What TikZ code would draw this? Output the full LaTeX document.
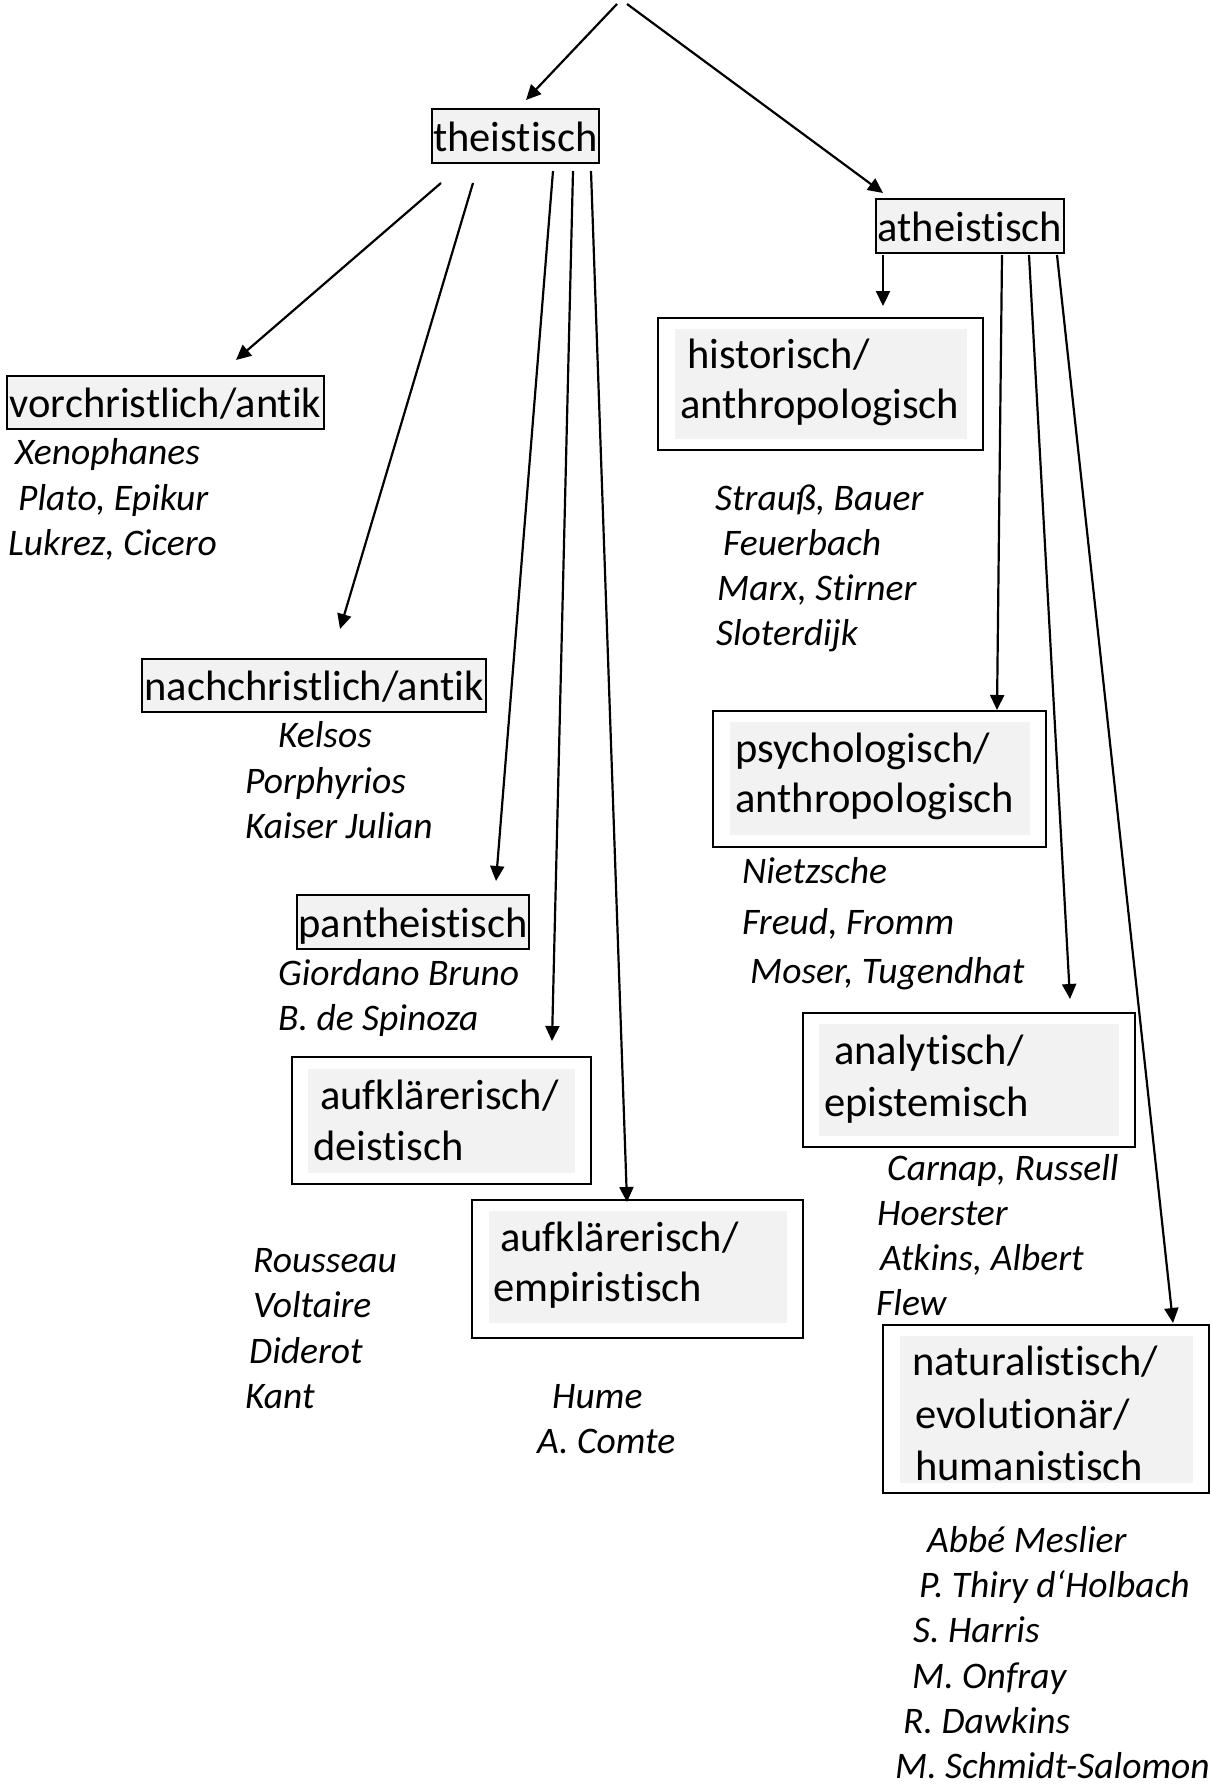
\documentclass[tikz,border=0pt]{standalone}
\usepackage{fontspec}
\setmainfont{Carlito}[Ligatures={NoCommon}]
\usetikzlibrary{arrows.meta}
\definecolor{boxgray}{HTML}{F2F2F2}
\newcommand{\bxfont}{\fontsize{42.5pt}{50pt}\selectfont}
\newcommand{\nmfont}{\fontsize{37.5pt}{45pt}\selectfont\itshape}
\begin{document}
\begin{tikzpicture}[x=1pt,y=-1pt,
  conn/.style={line width=2.2pt,-{Triangle[length=15pt,width=14pt]}},
  single/.style={draw,line width=2pt,fill=boxgray,inner sep=0pt,font=\bxfont,text height=36pt,text depth=6pt},
  outerbox/.style={draw,line width=2pt,fill=white,inner sep=0pt},
  innerbox/.style={fill=boxgray,inner sep=0pt},
  boxline/.style={anchor=base west,inner sep=0pt,font=\bxfont},
  nm/.style={anchor=base west,inner sep=0pt,font=\nmfont}]
\useasboundingbox[fill=white] (0,0) rectangle (1212,1785);

% single-line boxes
\node[single,minimum width=167pt,minimum height=54pt] (the) at (515.5,136) {theistisch};
\node[single,minimum width=188pt,minimum height=54pt] (athe) at (970,226) {atheistisch};
\node[single,minimum width=317pt,minimum height=53pt] (vor) at (165.5,402.5) {vorchristlich/antik};
\node[single,minimum width=344pt,minimum height=53pt] (nach) at (314,685.5) {nachchristlich/antik};
\node[single,minimum width=232pt,minimum height=54pt] (pan) at (413,922) {pantheistisch};

% two-line boxes
\node[outerbox,minimum width=325pt,minimum height=132pt] (hist) at (820.5,384) {};
\node[innerbox,minimum width=292pt,minimum height=110pt] (histin) at (821,384) {};
\node[boxline] (hist1) at (687,368) {historisch/};
\node[boxline] (hist2) at (680,418) {anthropologisch};

\node[outerbox,minimum width=333pt,minimum height=136pt] (psy) at (879.5,779) {};
\node[innerbox,minimum width=300pt,minimum height=113pt] (psyin) at (880,778.5) {};
\node[boxline] (psy1) at (735,762) {psychologisch/};
\node[boxline] (psy2) at (735,812) {anthropologisch};

\node[outerbox,minimum width=332pt,minimum height=134pt] (ana) at (969,1080) {};
\node[innerbox,minimum width=300pt,minimum height=112pt] (anain) at (969,1080) {};
\node[boxline] (ana1) at (834,1064) {analytisch/};
\node[boxline] (ana2) at (824,1116) {epistemisch};

\node[outerbox,minimum width=299pt,minimum height=127pt] (dei) at (441.5,1120.5) {};
\node[innerbox,minimum width=267pt,minimum height=104pt] (deiin) at (441.5,1121) {};
\node[boxline] (dei1) at (320,1109) {aufklärerisch/};
\node[boxline] (dei2) at (313,1160) {deistisch};

\node[outerbox,minimum width=331pt,minimum height=138pt] (emp) at (637.5,1269) {};
\node[innerbox,minimum width=298pt,minimum height=112pt] (empin) at (638,1267) {};
\node[boxline] (emp1) at (500,1251) {aufklärerisch/};
\node[boxline] (emp2) at (493,1301) {empiristisch};

\node[outerbox,minimum width=326pt,minimum height=168pt] (nat) at (1046,1409) {};
\node[innerbox,minimum width=293pt,minimum height=147pt] (natin) at (1046.5,1409.5) {};
\node[boxline] (nat1) at (912,1375) {naturalistisch/};
\node[boxline] (nat2) at (915,1428) {evolutionär/};
\node[boxline] (nat3) at (915,1480) {humanistisch};

% name lists
\node[nm] (n1) at (15,464) {Xenophanes};
\node[nm] (n2) at (18,510) {Plato, Epikur};
\node[nm] (n3) at (8,555) {Lukrez, Cicero};

\node[nm] (n4) at (278,747) {Kelsos};
\node[nm] (n5) at (245,793) {Porphyrios};
\node[nm] (n6) at (245,838) {Kaiser Julian};

\node[nm] (n7) at (278,985) {Giordano Bruno};
\node[nm] (n8) at (278,1030) {B. de Spinoza};

\node[nm] (n9) at (253,1272) {Rousseau};
\node[nm] (n10) at (253,1317) {Voltaire};
\node[nm] (n11) at (249,1363) {Diderot};
\node[nm] (n12) at (245,1408) {Kant};

\node[nm] (n13) at (552,1408) {Hume};
\node[nm] (n14) at (537,1453) {A. Comte};

\node[nm] (n15) at (715,510) {Strauß, Bauer};
\node[nm] (n16) at (723,555) {Feuerbach};
\node[nm] (n17) at (717,600) {Marx, Stirner};
\node[nm] (n18) at (716,645) {Sloterdijk};

\node[nm] (n19) at (742,883) {Nietzsche};
\node[nm] (n20) at (742,934) {Freud, Fromm};
\node[nm] (n21) at (750,983) {Moser, Tugendhat};

\node[nm] (n22) at (887,1180) {Carnap, Russell};
\node[nm] (n23) at (877,1225) {Hoerster};
\node[nm] (n24) at (880,1270) {Atkins, Albert};
\node[nm] (n25) at (876,1315) {Flew};

\node[nm] (n26) at (927,1552) {Abbé Meslier};
\node[nm] (n27) at (919,1597) {P. Thiry d‘Holbach};
\node[nm] (n28) at (913,1642) {S. Harris};
\node[nm] (n29) at (912,1688) {M. Onfray};
\node[nm] (n30) at (903,1733) {R. Dawkins};
\node[nm] (n31) at (895,1778) {M. Schmidt-Salomon};

% connector end points
\coordinate (r1) at (617,4);
\coordinate (r2) at (627,4);
\coordinate (the-e) at (526,100);
\coordinate (athe-e) at (883,193);
\coordinate (t1s) at (441,183); \coordinate (t1e) at (236,360);
\coordinate (t2s) at (473,183); \coordinate (t2e) at (340,629);
\coordinate (t3s) at (553,171); \coordinate (t3e) at (496,881);
\coordinate (t4s) at (573,171); \coordinate (t4e) at (552,1041);
\coordinate (t5s) at (591,171); \coordinate (t5e) at (627,1202);
\coordinate (a1s) at (883,255); \coordinate (a1e) at (883,306);
\coordinate (a2s) at (1002,255); \coordinate (a2e) at (997,710);
\coordinate (a3s) at (1029,255); \coordinate (a3e) at (1070,999);
\coordinate (a4s) at (1057,255); \coordinate (a4e) at (1173,1323);

\draw[conn] (r1) -- (the-e);
\draw[conn] (r2) -- (athe-e);
\draw[conn] (t1s) -- (t1e);
\draw[conn] (t2s) -- (t2e);
\draw[conn] (t3s) -- (t3e);
\draw[conn] (t4s) -- (t4e);
\draw[conn] (t5s) -- (t5e);
\draw[conn] (a1s) -- (a1e);
\draw[conn] (a2s) -- (a2e);
\draw[conn] (a3s) -- (a3e);
\draw[conn] (a4s) -- (a4e);
\end{tikzpicture}
\end{document}
